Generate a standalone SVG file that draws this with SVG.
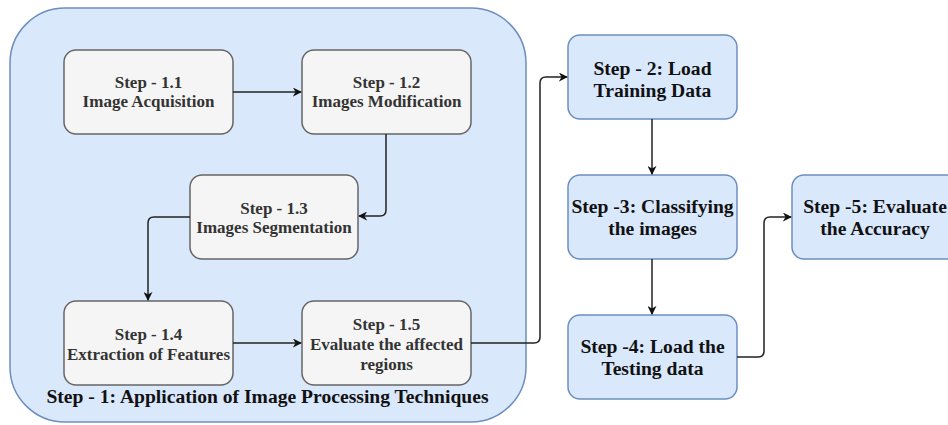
<svg xmlns="http://www.w3.org/2000/svg" width="948" height="425" viewBox="0 0 948 425">
<defs>
<style>
.cont{fill:#dae8fc;stroke:#6c8ebf;stroke-width:1.5}
.sub{fill:#f5f5f5;stroke:#666666;stroke-width:1.5}
.main{fill:#dae8fc;stroke:#6c8ebf;stroke-width:1.5}
.c{fill:none;stroke:#222222;stroke-width:1.5}
</style>
<marker id="a" viewBox="0 0 10 10" refX="9" refY="5" markerWidth="9" markerHeight="9" markerUnits="userSpaceOnUse" orient="auto">
<path d="M0 0 L10 5 L0 10 L3 5 Z" fill="#111111"/>
</marker>
</defs>
<rect width="948" height="425" fill="#ffffff"/>
<g id="container">
<rect class="cont" x="10" y="8" width="516" height="414" rx="55" ry="55"/>
<text x="267.5" y="403" font-family="Liberation Serif, serif" font-weight="bold" font-size="19.6" fill="#111111" text-anchor="middle">Step - 1: Application of Image Processing Techniques</text>
</g>
<g font-family="Liberation Serif, serif" font-weight="bold" font-size="17" fill="#333333" text-anchor="middle">
<g id="step11">
<rect class="sub" x="64" y="50" width="169" height="84" rx="12"/>
<text x="148.5" y="88">Step - 1.1</text>
<text x="148.5" y="107">Image Acquisition</text>
</g>
<g id="step12">
<rect class="sub" x="302" y="50" width="169" height="84" rx="12"/>
<text x="386.5" y="88">Step - 1.2</text>
<text x="386.5" y="107">Images Modification</text>
</g>
<g id="step13">
<rect class="sub" x="190" y="175" width="168" height="84" rx="12"/>
<text x="274" y="214">Step - 1.3</text>
<text x="274" y="233">Images Segmentation</text>
</g>
<g id="step14">
<rect class="sub" x="64" y="301" width="169" height="84" rx="12"/>
<text x="148.5" y="340">Step - 1.4</text>
<text x="148.5" y="360">Extraction of Features</text>
</g>
<g id="step15">
<rect class="sub" x="302" y="301" width="169" height="84" rx="12"/>
<text x="386.5" y="330">Step - 1.5</text>
<text x="386.5" y="350">Evaluate the affected</text>
<text x="386.5" y="370">regions</text>
</g>
</g>
<g font-family="Liberation Serif, serif" font-weight="bold" font-size="19.6" fill="#111111" text-anchor="middle">
<g id="step2">
<rect class="main" x="568" y="35" width="169" height="84" rx="12"/>
<text x="652.5" y="75">Step - 2: Load</text>
<text x="652.5" y="97">Training Data</text>
</g>
<g id="step3">
<rect class="main" x="568" y="175" width="169" height="84" rx="12"/>
<text x="652.5" y="213">Step -3: Classifying</text>
<text x="652.5" y="235">the images</text>
</g>
<g id="step4">
<rect class="main" x="568" y="315" width="169" height="84" rx="12"/>
<text x="652.5" y="353">Step -4: Load the</text>
<text x="652.5" y="375">Testing data</text>
</g>
<g id="step5">
<rect class="main" x="792" y="175" width="169" height="84" rx="12"/>
<text x="875" y="213">Step -5: Evaluate</text>
<text x="875" y="235">the Accuracy</text>
</g>
</g>
<g id="connectors">
<path class="c" d="M233 92 H301" marker-end="url(#a)"/>
<path class="c" d="M386 134 V210 Q386 216 380 216 H359" marker-end="url(#a)"/>
<path class="c" d="M190 217 H154 Q148 217 148 223 V300" marker-end="url(#a)"/>
<path class="c" d="M233 343 H301" marker-end="url(#a)"/>
<path class="c" d="M471 343 H534 Q540 343 540 337 V83 Q540 77 546 77 H567" marker-end="url(#a)"/>
<path class="c" d="M652 119 V174" marker-end="url(#a)"/>
<path class="c" d="M652 259 V314" marker-end="url(#a)"/>
<path class="c" d="M737 357 H758 Q764 357 764 351 V223 Q764 217 770 217 H791" marker-end="url(#a)"/>
</g>
</svg>
